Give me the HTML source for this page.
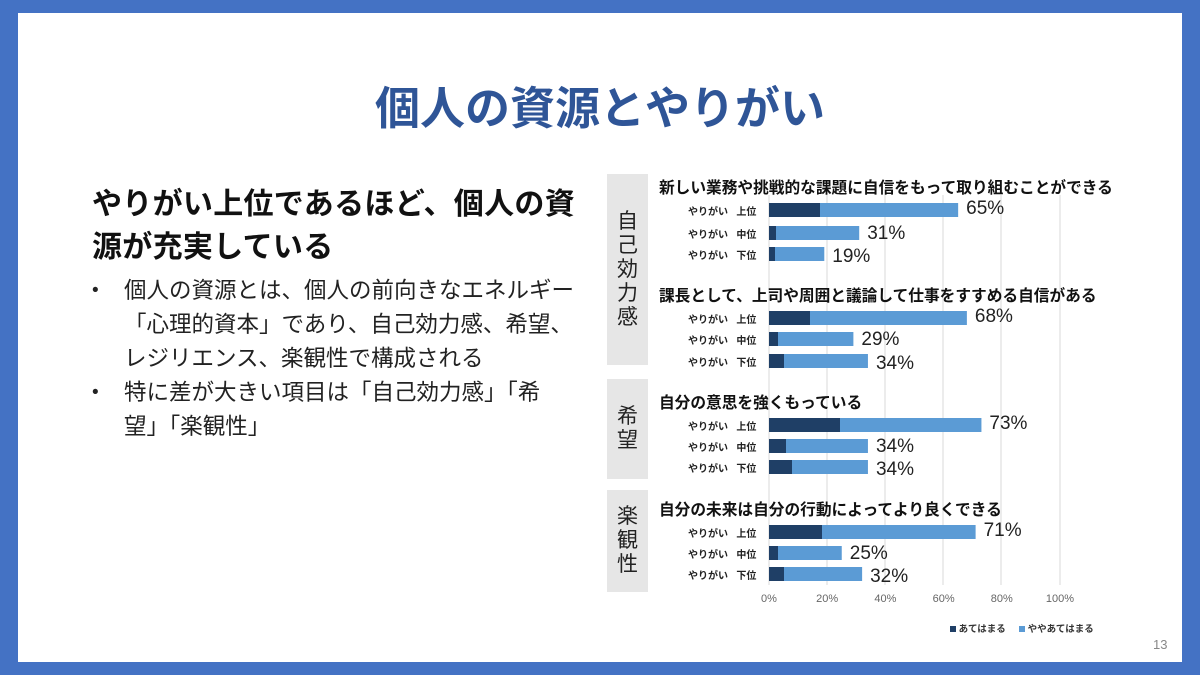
<!DOCTYPE html>
<html><head><meta charset="utf-8"><style>
body{margin:0;width:1200px;height:675px;background:#4472c4;position:relative;overflow:hidden;font-family:"Liberation Sans","Noto Sans CJK JP",sans-serif}
.w{position:absolute;left:18px;top:13px;width:1164px;height:649px;background:#fff}
.a{position:absolute;white-space:nowrap}
.g{position:absolute;background:#e6e6e6;left:607px;width:41px;font-size:21px;color:#222;text-align:center;line-height:24px;display:flex;align-items:center;justify-content:center}
.t{font-weight:bold;font-size:15.7px;color:#111}
.l{font-size:10px;font-weight:bold;color:#222}
.v{font-size:19px;color:#222}
.ax{font-size:11px;color:#666}
</style></head><body>
<div class="w"></div>
<div class="a" style="left:0;width:1200px;top:72px;text-align:center;font-size:45px;font-weight:bold;color:#2f5597">個人の資源とやりがい</div>
<div class="a" style="left:92px;top:183px;font-size:30px;font-weight:bold;line-height:43px;color:#111;letter-spacing:0.3px">やりがい上位であるほど、個人の資<br>源が充実している</div>
<div class="a" style="left:92px;top:274px;font-size:19px;line-height:34px;color:#222">•</div>
<div class="a" style="left:124px;top:274px;font-size:22.5px;line-height:34px;color:#222">個人の資源とは、個人の前向きなエネルギー<br>「心理的資本」であり、自己効力感、希望、<br>レジリエンス、楽観性で構成される</div>
<div class="a" style="left:92px;top:376px;font-size:19px;line-height:34px;color:#222">•</div>
<div class="a" style="left:124px;top:376px;font-size:22.5px;line-height:34px;color:#222">特に差が大きい項目は「自己効力感」「希<br>望」「楽観性」</div>
<div class="g" style="top:174px;height:191px">自<br>己<br>効<br>力<br>感</div>
<div class="g" style="top:379px;height:100px">希<br>望</div>
<div class="g" style="top:490px;height:102px">楽<br>観<br>性</div>
<svg class="a" style="left:0;top:0" width="1200" height="675">
<g stroke="#d9d9d9" stroke-width="1">
<line x1="769" y1="195" x2="769" y2="585"/><line x1="827" y1="195" x2="827" y2="585"/><line x1="885" y1="195" x2="885" y2="585"/><line x1="943" y1="195" x2="943" y2="585"/><line x1="1001" y1="195" x2="1001" y2="585"/><line x1="1060" y1="195" x2="1060" y2="585"/>
</g>
<g id="bars"></g>
</svg>
<div id="c"></div>
<script>
var rows=[[210,820,65],[233,776,31],[254,775,19],[318,810,68],[339,778,29],[361,784,34],[425,840,73],[446,786,34],[467,792,34],[532,822,71],[553,778,25],[574,784,32]];
var lab=["上位","中位","下位"],s="",h="";
rows.forEach(function(r,i){var e=769+r[2]*2.91;
s+='<rect x="769" y="'+(r[0]-7)+'" width="'+(e-769)+'" height="14" fill="#5b9bd5"/><rect x="769" y="'+(r[0]-7)+'" width="'+(r[1]-769)+'" height="14" fill="#1f3f66"/>';
h+='<div class="a l" style="left:688px;top:'+(r[0]-7)+'px">やりがい&nbsp;&nbsp;&nbsp;'+lab[i%3]+'</div>';
h+='<div class="a v" style="left:'+(e+8)+'px;top:'+(r[0]-11+[ -1,1,3][i%3])+'px">'+r[2]+'%</div>';});
document.getElementById("bars").innerHTML=s;
var t=[[175,"新しい業務や挑戦的な課題に自信をもって取り組むことができる"],[283,"課長として、上司や周囲と議論して仕事をすすめる自信がある"],[390,"自分の意思を強くもっている"],[497,"自分の未来は自分の行動によってより良くできる"]];
t.forEach(function(x){h+='<div class="a t" style="left:659px;top:'+x[0]+'px">'+x[1]+'</div>'});
[0,20,40,60,80,100].forEach(function(p){h+='<div class="a ax" style="left:'+(769+p*2.91-20)+'px;width:40px;text-align:center;top:593px">'+p+'%</div>'});
h+='<div class="a" style="left:950px;top:621px;font-size:9.5px;font-weight:bold;color:#333"><span style="display:inline-block;width:6px;height:6px;background:#1f3f66"></span> あてはまる&nbsp;&nbsp;&nbsp;&nbsp;&nbsp;<span style="display:inline-block;width:6px;height:6px;background:#5b9bd5"></span> ややあてはまる</div>';
h+='<div class="a" style="left:1153px;top:637px;font-size:13px;color:#888">13</div>';
document.getElementById("c").innerHTML=h;
</script>
</body></html>
